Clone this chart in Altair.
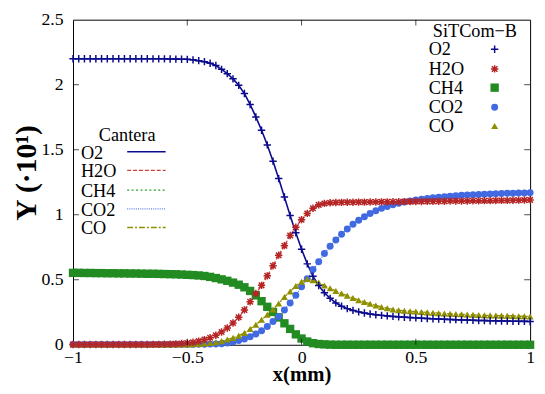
import altair as alt
import pandas as pd

# ---------------- data ----------------
X = [-1.0, -0.975, -0.95, -0.925, -0.9, -0.875, -0.85, -0.825, -0.8, -0.775, -0.75,
     -0.725, -0.7, -0.675, -0.65, -0.625, -0.6, -0.575, -0.55, -0.525, -0.5,
     -0.475, -0.45, -0.425, -0.4, -0.375, -0.35, -0.325, -0.3, -0.275, -0.25,
     -0.225, -0.2, -0.175, -0.15, -0.125, -0.1, -0.075, -0.05, -0.025, 0.0,
     0.025, 0.05, 0.075, 0.1, 0.125, 0.15, 0.175, 0.2, 0.225, 0.25,
     0.275, 0.3, 0.325, 0.35, 0.375, 0.4, 0.425, 0.45, 0.475, 0.5,
     0.525, 0.55, 0.575, 0.6, 0.625, 0.65, 0.675, 0.7, 0.725, 0.75,
     0.775, 0.8, 0.825, 0.85, 0.875, 0.9, 0.925, 0.95, 0.975, 1.0]

O2 = [2.200, 2.200, 2.200, 2.200, 2.200, 2.200, 2.200, 2.200, 2.200, 2.200, 2.200,
      2.200, 2.200, 2.200, 2.199, 2.199, 2.199, 2.198, 2.197, 2.196, 2.195,
      2.191, 2.185, 2.177, 2.165, 2.148, 2.118, 2.085, 2.045, 1.995, 1.932,
      1.848, 1.752, 1.650, 1.537, 1.412, 1.278, 1.136, 0.994, 0.861, 0.735,
      0.622, 0.527, 0.455, 0.400, 0.357, 0.322, 0.297, 0.278, 0.264, 0.253,
      0.244, 0.237, 0.231, 0.226, 0.222, 0.218, 0.215, 0.212, 0.209, 0.207,
      0.204, 0.202, 0.200, 0.198, 0.196, 0.194, 0.193, 0.191, 0.190, 0.188,
      0.187, 0.186, 0.185, 0.184, 0.183, 0.182, 0.181, 0.180, 0.180, 0.179]

H2O = [0.002, 0.002, 0.002, 0.002, 0.002, 0.002, 0.002, 0.002, 0.002, 0.002, 0.002,
       0.002, 0.002, 0.002, 0.003, 0.003, 0.004, 0.005, 0.007, 0.010, 0.013,
       0.019, 0.028, 0.040, 0.054, 0.073, 0.098, 0.129, 0.167, 0.212, 0.268,
       0.331, 0.394, 0.457, 0.530, 0.608, 0.689, 0.762, 0.840, 0.904, 0.962,
       1.010, 1.050, 1.076, 1.087, 1.092, 1.094, 1.095, 1.096, 1.096, 1.097,
       1.097, 1.098, 1.098, 1.099, 1.099, 1.100, 1.100, 1.101, 1.101, 1.102,
       1.102, 1.103, 1.103, 1.104, 1.104, 1.105, 1.105, 1.106, 1.106, 1.107,
       1.107, 1.108, 1.108, 1.109, 1.110, 1.110, 1.111, 1.112, 1.113, 1.114]

CH4 = [0.553, 0.553, 0.552, 0.552, 0.551, 0.551, 0.550, 0.550, 0.549, 0.549, 0.548,
       0.548, 0.547, 0.546, 0.546, 0.545, 0.544, 0.543, 0.542, 0.540, 0.538,
       0.536, 0.533, 0.529, 0.522, 0.513, 0.503, 0.492, 0.478, 0.462, 0.442,
       0.414, 0.380, 0.335, 0.292, 0.252, 0.210, 0.165, 0.122, 0.080, 0.048,
       0.025, 0.012, 0.006, 0.003, 0.001, 0.0, 0.0, 0.0, 0.0, 0.0,
       0.0, 0.0, 0.0, 0.0, 0.0, 0.0, 0.0, 0.0, 0.0, 0.0,
       0.0, 0.0, 0.0, 0.0, 0.0, 0.0, 0.0, 0.0, 0.0, 0.0,
       0.0, 0.0, 0.0, 0.0, 0.0, 0.0, 0.0, 0.0, 0.0, 0.0]

CO2 = [0.002, 0.002, 0.002, 0.002, 0.002, 0.002, 0.002, 0.002, 0.002, 0.002, 0.002,
       0.002, 0.002, 0.002, 0.002, 0.002, 0.002, 0.002, 0.002, 0.003, 0.003,
       0.003, 0.004, 0.004, 0.005, 0.006, 0.008, 0.013, 0.022, 0.032, 0.045,
       0.062, 0.083, 0.108, 0.141, 0.179, 0.217, 0.268, 0.322, 0.381, 0.446,
       0.508, 0.578, 0.639, 0.702, 0.757, 0.806, 0.850, 0.890, 0.926, 0.957,
       0.985, 1.010, 1.031, 1.049, 1.064, 1.077, 1.088, 1.098, 1.106, 1.113,
       1.119, 1.125, 1.130, 1.135, 1.139, 1.143, 1.146, 1.149, 1.152, 1.154,
       1.156, 1.158, 1.160, 1.162, 1.164, 1.165, 1.166, 1.167, 1.168, 1.169]

CO = [0.002, 0.002, 0.002, 0.002, 0.002, 0.002, 0.002, 0.002, 0.002, 0.002, 0.002,
      0.002, 0.002, 0.002, 0.002, 0.002, 0.002, 0.002, 0.002, 0.002, 0.003,
      0.004, 0.006, 0.009, 0.013, 0.020, 0.028, 0.040, 0.053, 0.070, 0.091,
      0.121, 0.154, 0.192, 0.230, 0.272, 0.318, 0.368, 0.410, 0.452, 0.485,
      0.505, 0.497, 0.478, 0.455, 0.434, 0.414, 0.395, 0.377, 0.360, 0.343,
      0.329, 0.315, 0.302, 0.291, 0.281, 0.272, 0.266, 0.261, 0.258, 0.255,
      0.252, 0.249, 0.246, 0.243, 0.241, 0.238, 0.236, 0.234, 0.232, 0.230,
      0.229, 0.227, 0.226, 0.225, 0.224, 0.223, 0.222, 0.220, 0.219, 0.218]

SPECIES = ["O2", "H2O", "CH4", "CO2", "CO"]
SERIES = {"O2": O2, "H2O": H2O, "CH4": CH4, "CO2": CO2, "CO": CO}
X_TICKS = [-0.5, 0.0, 0.5]
Y_TICKS = [0.5, 1.0, 1.5, 2.0]

# ---------------- styles ----------------
W, H = 464, 330
FONT = "Liberation Serif, Times New Roman, DejaVu Serif, serif"
PT_COLOR = {"O2": "#0b0b8e", "H2O": "#b52525", "CH4": "#228b22",
            "CO2": "#4169e1", "CO": "#8f8f00"}
LN_COLOR = {"O2": "#0b0b8e", "H2O": "#cc4040", "CH4": "#2a9a2a",
            "CO2": "#5a7fe8", "CO": "#8f8f00"}
LN_DASH = {"O2": [1, 0], "H2O": [4, 2], "CH4": [2, 2.5], "CO2": [1, 1.2],
           "CO": [6, 2, 2, 2]}
PLUS = "M-1,0L1,0M0,-1L0,1"
STAR = "M-1,0L1,0M0,-1L0,1M-0.75,-0.75L0.75,0.75M-0.75,0.75L0.75,-0.75"
PT_SHAPE = {"O2": PLUS, "H2O": STAR, "CH4": "square", "CO2": "circle",
            "CO": "triangle-up"}
PT_SIZE = {"O2": 56, "H2O": 56, "CH4": 72, "CO2": 50, "CO": 50}
PT_FILLED = {"O2": False, "H2O": False, "CH4": True, "CO2": True, "CO": True}

xscale = alt.Scale(domain=[-1, 1], nice=False, zero=False)
yscale = alt.Scale(domain=[0, 2.5], nice=False)

x_axis = alt.Axis(values=[-1, -0.5, 0, 0.5, 1], format="~g", ticks=False,
                  domain=False, grid=False, labelFont=FONT, labelFontSize=18,
                  labelColor="black", labelPadding=4, labelFlush=False,
                  title="x(mm)", titleFont=FONT, titleFontSize=21,
                  titleFontWeight="bold", titleColor="black",
                  titleX=W / 2, titleY=36, titleAlign="center",
                  titleBaseline="alphabetic")
y_axis = alt.Axis(values=[0, 0.5, 1, 1.5, 2, 2.5], format="~g", ticks=False,
                  domain=False, grid=False, labelFont=FONT, labelFontSize=18,
                  labelColor="black", labelPadding=10, labelFlush=False,
                  title="Y (·10¹)", titleFont=FONT, titleFontSize=30,
                  titleFontWeight="bold", titleColor="black",
                  titleX=-47, titleY=155, titleAngle=-90, titleAlign="center",
                  titleBaseline="middle")


def ex():
    return alt.X("x:Q", scale=xscale, axis=x_axis)


def ey():
    return alt.Y("y:Q", scale=yscale, axis=y_axis)


layers = []
frames = {s: pd.DataFrame({"x": X, "y": SERIES[s]}) for s in SPECIES}

# Cantera lines
for s in SPECIES:
    layers.append(
        alt.Chart(frames[s]).mark_line(
            color=LN_COLOR[s], strokeDash=LN_DASH[s],
            strokeWidth=1.6 if s == "O2" else 1.4
        ).encode(x=ex(), y=ey())
    )

# SiTCom-B points
for s in ["CH4", "CO2", "CO", "H2O", "O2"]:
    layers.append(
        alt.Chart(frames[s]).mark_point(
            shape=PT_SHAPE[s], size=PT_SIZE[s], filled=PT_FILLED[s],
            color=PT_COLOR[s], opacity=1,
            strokeWidth=1.5 if not PT_FILLED[s] else 0
        ).encode(x=ex(), y=ey())
    )

# inward ticks on all four sides
xt = pd.DataFrame({"x": X_TICKS})
yt = pd.DataFrame({"y": Y_TICKS})
for yy in [H - 3, 3]:
    layers.append(alt.Chart(xt).mark_tick(orient="vertical", size=6, thickness=1,
                                          color="black")
                  .encode(x=ex(), y=alt.value(yy)))
for xx in [3, W - 3]:
    layers.append(alt.Chart(yt).mark_tick(orient="horizontal", size=6, thickness=1,
                                          color="black")
                  .encode(y=ey(), x=alt.value(xx)))

one = pd.DataFrame({"a": [0]})


def txt(t, px, py, align="left", size=18.5):
    return alt.Chart(one).mark_text(align=align, baseline="middle", font=FONT,
                                    fontSize=size, color="black").encode(
        x=alt.value(px), y=alt.value(py), text=alt.value(t))


# legend: SiTCom-B (labels left, symbols right)
LEG1_Y = [30, 50, 69, 89, 108]
layers.append(txt("SiTCom\u2212B", 408, 12, align="center"))
for s, py in zip(SPECIES, LEG1_Y):
    layers.append(txt(s, 361, py))
    layers.append(alt.Chart(one).mark_point(
        shape=PT_SHAPE[s], size=PT_SIZE[s], filled=PT_FILLED[s],
        color=PT_COLOR[s], opacity=1,
        strokeWidth=1.5 if not PT_FILLED[s] else 0
    ).encode(x=alt.value(428), y=alt.value(py)))

# legend: Cantera (labels left, line samples right)
LEG2_Y = [135, 154, 174, 193, 212]
layers.append(txt("Cantera", 55, 117, align="center"))
for s, py in zip(SPECIES, LEG2_Y):
    layers.append(txt(s, 8, py))
    layers.append(alt.Chart(one).mark_rule(
        color=LN_COLOR[s], strokeDash=LN_DASH[s],
        strokeWidth=1.6 if s == "O2" else 1.4
    ).encode(x=alt.value(55), x2=alt.value(94), y=alt.value(py - 1)))

chart = alt.layer(*layers).properties(
    width=W, height=H,
    autosize=alt.AutoSizeParams(type="none"),
    padding={"left": 66, "top": 9, "right": 7, "bottom": 39},
    background="white",
).configure_view(stroke="black", strokeWidth=1)

chart.save("out.html", embed_options={"renderer": "svg", "actions": False})
